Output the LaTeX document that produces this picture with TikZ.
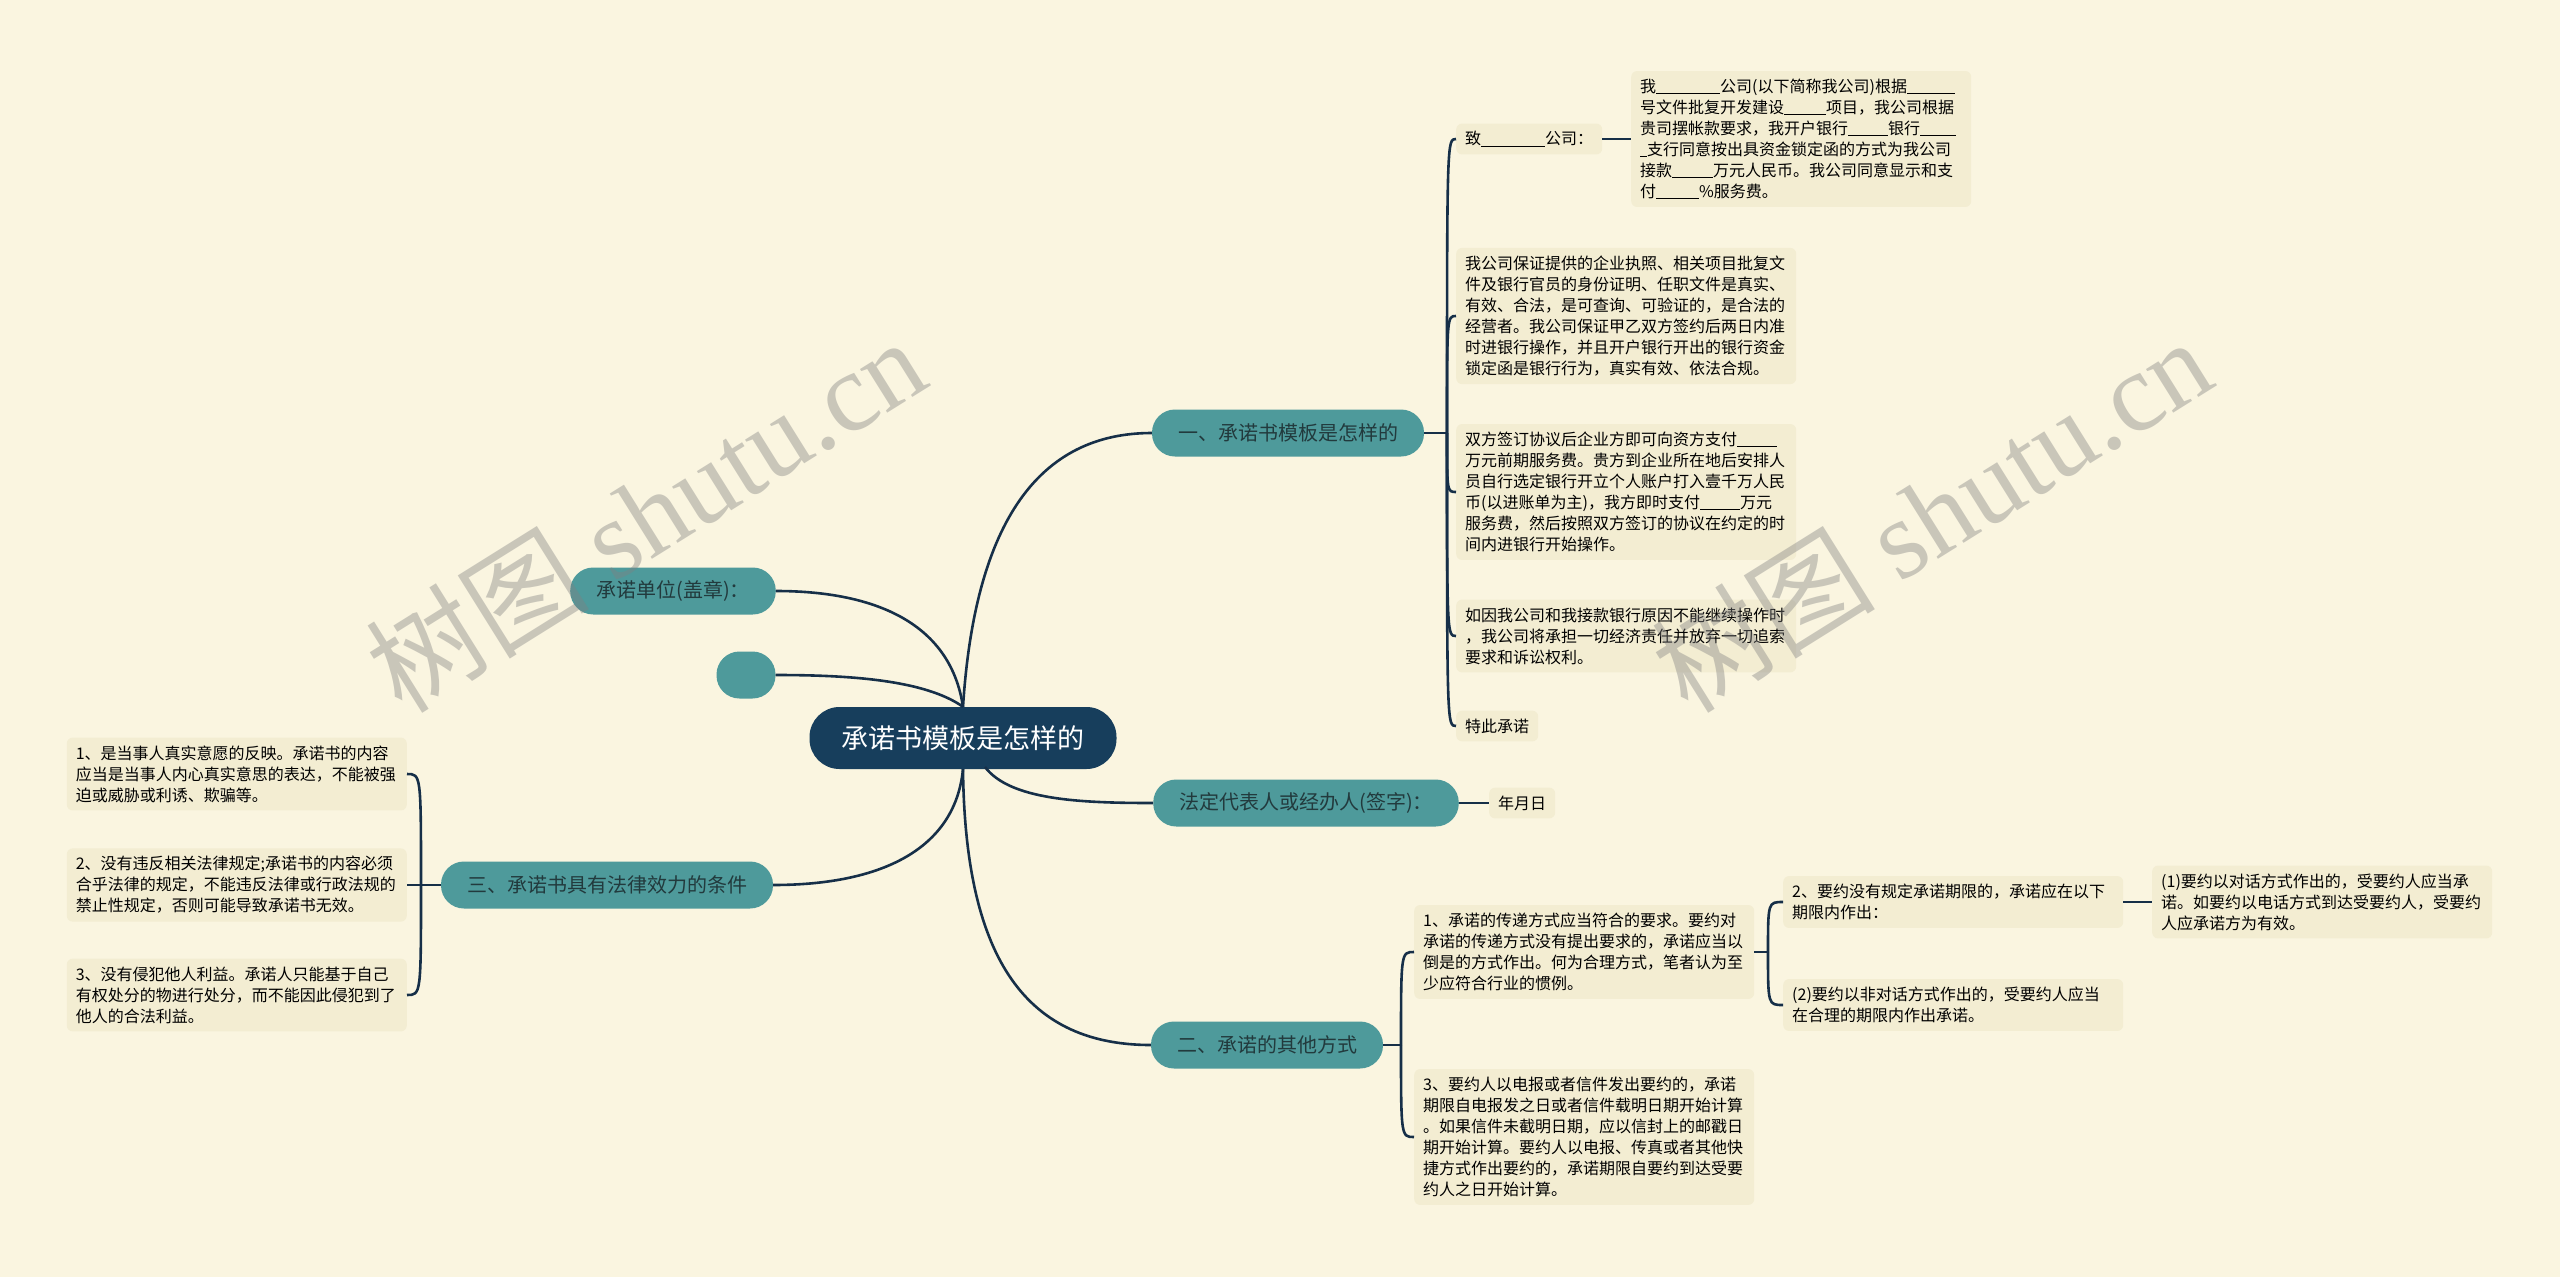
\documentclass[tikz,border=0pt]{standalone}
\usepackage{fontspec}
\setmainfont{Noto Sans CJK SC}
\newfontfamily\wmlatin{Liberation Serif}
\definecolor{bgcol}{HTML}{FAF5E0}
\definecolor{leafcol}{HTML}{F3EDD2}
\definecolor{topiccol}{HTML}{4E9A9B}
\definecolor{rootcol}{HTML}{173E5C}
\definecolor{linecol}{HTML}{162F48}
\definecolor{topictext}{HTML}{223A3D}
\newcommand{\fillin}[1]{\rule[-1.5pt]{#1}{0.9pt}}

\begin{document}
\begin{tikzpicture}[x=1pt,y=-1pt,
  root/.style={fill=rootcol,text=white,rounded corners=30pt,minimum height=62pt,
    inner xsep=32pt,font=\fontsize{27}{32}\selectfont},
  topic/.style={fill=topiccol,text=topictext,rounded corners=23pt,minimum height=47pt,
    inner xsep=26pt,font=\fontsize{20}{24}\selectfont},
  leaf/.style={fill=leafcol,rounded corners=6pt,inner xsep=9pt,inner ysep=8pt,
    font=\fontsize{16}{21}\selectfont},
  leafbox/.style={leaf,text width=322pt,align=left},
  link/.style={draw=linecol,line width=2.6pt},
  watermark/.style={text=gray,opacity=0.4,rotate=32,font=\fontsize{112}{120}\selectfont}
]
\useasboundingbox[fill=bgcol] (0,0) rectangle (2560,1277);

% centre and main topics
\node[root] (root) at (963,738) {承诺书模板是怎样的};
\node[topic] (b1) at (1288,433) {一、承诺书模板是怎样的};
\node[topic] (b2) at (1306,803) {法定代表人或经办人(签字)：};
\node[topic] (b3) at (1267,1045) {二、承诺的其他方式};
\node[topic] (b4) at (607,885) {三、承诺书具有法律效力的条件};
\node[topic] (n1) at (673,591) {承诺单位(盖章)：};
\node[topic,minimum width=59pt,inner xsep=0pt] (n2) at (746,675) {};

\draw[link] (root.north) .. controls (975,520) and (1040,433) .. (b1.west);
\draw[link] (root.north) .. controls (950,620) and (870,591) .. (n1.east);
\draw[link] (root.north) .. controls (925,680) and (850,675) .. (n2.east);
\draw[link] (985,767) .. controls (1010,800) and (1080,803) .. (b2.west);
\draw[link] (root.south) .. controls (965,950) and (1020,1045) .. (b3.west);
\draw[link] (root.south) .. controls (955,850) and (880,885) .. (b4.east);

% branch one
\node[leaf,anchor=west] (l11) at (1456,139) {致\fillin{64pt}公司：};
\node[leafbox,anchor=west] (l11a) at (1631,139) {我\fillin{64pt}公司(以下简称我公司)根据\fillin{48pt}\\
号文件批复开发建设\fillin{42pt}项目，我公司根据\\
贵司摆帐款要求，我开户银行\fillin{40pt}银行\fillin{36pt}\\
\fillin{7pt}支行同意按出具资金锁定函的方式为我公司\\
接款\fillin{41pt}万元人民币。我公司同意显示和支\\
付\fillin{43pt}\%服务费。};
\node[leafbox,anchor=west] (l12) at (1456,316) {我公司保证提供的企业执照、相关项目批复文\\
件及银行官员的身份证明、任职文件是真实、\\
有效、合法，是可查询、可验证的，是合法的\\
经营者。我公司保证甲乙双方签约后两日内准\\
时进银行操作，并且开户银行开出的银行资金\\
锁定函是银行行为，真实有效、依法合规。};
\node[leafbox,anchor=west] (l13) at (1456,492) {双方签订协议后企业方即可向资方支付\fillin{40pt}\\
万元前期服务费。贵方到企业所在地后安排人\\
员自行选定银行开立个人账户打入壹千万人民\\
币(以进账单为主)，我方即时支付\fillin{40pt}万元\\
服务费，然后按照双方签订的协议在约定的时\\
间内进银行开始操作。};
\node[leafbox,anchor=west] (l14) at (1456,636) {如因我公司和我接款银行原因不能继续操作时\\
，我公司将承担一切经济责任并放弃一切追索\\
要求和诉讼权利。};
\node[leaf,anchor=west] (l15) at (1456,726) {特此承诺};

\coordinate (j1) at (1447,433);
\draw[link] (b1) -- (j1);
\draw[link] (j1) .. controls (j1 |- l11.west) .. (l11.west);
\draw[link] (j1) .. controls (j1 |- l12.west) .. (l12.west);
\draw[link] (j1) .. controls (j1 |- l13.west) .. (l13.west);
\draw[link] (j1) .. controls (j1 |- l14.west) .. (l14.west);
\draw[link] (j1) .. controls (j1 |- l15.west) .. (l15.west);
\draw[link] (l11) -- (l11a);

% signature
\node[leaf,anchor=west] (l21) at (1489,803) {年月日};
\draw[link] (b2) -- (l21);

% branch two
\node[leafbox,anchor=west] (l31) at (1414,952) {1、承诺的传递方式应当符合的要求。要约对\\
承诺的传递方式没有提出要求的，承诺应当以\\
倒是的方式作出。何为合理方式，笔者认为至\\
少应符合行业的惯例。};
\node[leafbox,anchor=west] (l32) at (1414,1137) {3、要约人以电报或者信件发出要约的，承诺\\
期限自电报发之日或者信件载明日期开始计算\\
。如果信件未截明日期，应以信封上的邮戳日\\
期开始计算。要约人以电报、传真或者其他快\\
捷方式作出要约的，承诺期限自要约到达受要\\
约人之日开始计算。};
\node[leafbox,anchor=west] (l311) at (1783,902) {2、要约没有规定承诺期限的，承诺应在以下\\
期限内作出：};
\node[leafbox,anchor=west] (l312) at (1783,1005) {(2)要约以非对话方式作出的，受要约人应当\\
在合理的期限内作出承诺。};
\node[leafbox,anchor=west] (l3111) at (2152,902) {(1)要约以对话方式作出的，受要约人应当承\\
诺。如要约以电话方式到达受要约人，受要约\\
人应承诺方为有效。};

\coordinate (j3) at (1401,1045);
\draw[link] (b3) -- (j3);
\draw[link] (j3) .. controls (j3 |- l31.west) .. (l31.west);
\draw[link] (j3) .. controls (j3 |- l32.west) .. (l32.west);
\coordinate (j31) at (1768,952);
\draw[link] (l31) -- (j31);
\draw[link] (j31) .. controls (j31 |- l311.west) .. (l311.west);
\draw[link] (j31) .. controls (j31 |- l312.west) .. (l312.west);
\draw[link] (l311) -- (l3111);

% branch three
\node[leafbox,anchor=east] (l41) at (407,774) {1、是当事人真实意愿的反映。承诺书的内容\\
应当是当事人内心真实意思的表达，不能被强\\
迫或威胁或利诱、欺骗等。};
\node[leafbox,anchor=east] (l42) at (407,885) {2、没有违反相关法律规定;承诺书的内容必须\\
合乎法律的规定，不能违反法律或行政法规的\\
禁止性规定，否则可能导致承诺书无效。};
\node[leafbox,anchor=east] (l43) at (407,995) {3、没有侵犯他人利益。承诺人只能基于自己\\
有权处分的物进行处分，而不能因此侵犯到了\\
他人的合法利益。};

\coordinate (j4) at (421,885);
\draw[link] (b4) -- (j4);
\draw[link] (j4) .. controls (j4 |- l41.east) .. (l41.east);
\draw[link] (j4) -- (l42.east);
\draw[link] (j4) .. controls (j4 |- l43.east) .. (l43.east);

% watermarks
\node[watermark] (wm1) at (645,514) {树图 {\wmlatin shutu.cn}};
\node[watermark] (wm2) at (1931,514) {树图 {\wmlatin shutu.cn}};
\end{tikzpicture}
\end{document}
